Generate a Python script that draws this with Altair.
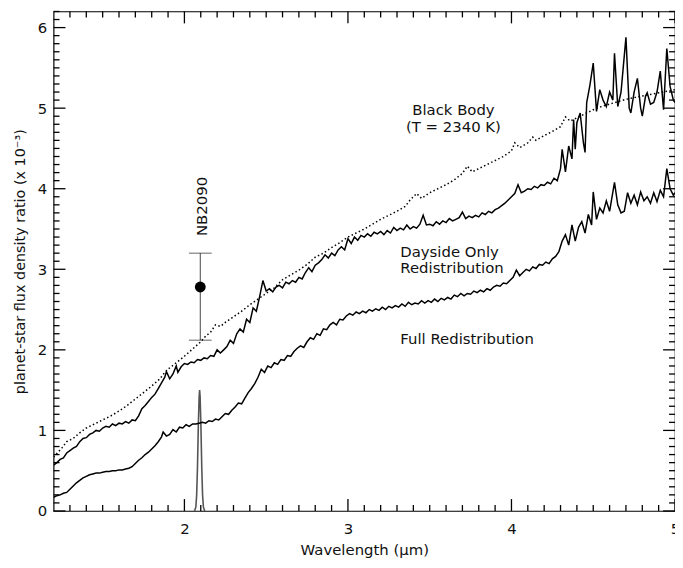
import altair as alt
import pandas as pd

# ---------------- data ----------------
wl_bb = [1.20, 1.25, 1.28, 1.32, 1.36, 1.40, 1.45, 1.50, 1.55, 1.60, 1.65, 1.70, 1.75, 1.80,
         1.85, 1.88, 1.90, 1.95, 2.00, 2.05, 2.10, 2.13, 2.16, 2.19, 2.22, 2.25, 2.30, 2.35,
         2.40, 2.45, 2.50, 2.55, 2.60, 2.65, 2.70, 2.75, 2.80, 2.85, 2.90, 2.95, 3.00, 3.05,
         3.10, 3.15, 3.20, 3.25, 3.30, 3.35, 3.38, 3.42, 3.45, 3.50, 3.55, 3.60, 3.65, 3.70,
         3.73, 3.76, 3.80, 3.85, 3.90, 3.95, 4.00, 4.02, 4.05, 4.10, 4.13, 4.15, 4.20, 4.25,
         4.30, 4.33, 4.36, 4.40, 4.45, 4.50, 4.55, 4.60, 4.65, 4.70, 4.75, 4.80, 4.85, 4.90,
         4.95, 5.00]
f_bb = [0.67, 0.78, 0.86, 0.90, 0.97, 1.03, 1.08, 1.13, 1.18, 1.24, 1.31, 1.39, 1.47, 1.55,
        1.64, 1.72, 1.76, 1.84, 1.92, 2.01, 2.10, 2.17, 2.22, 2.31, 2.29, 2.34, 2.41, 2.48,
        2.56, 2.63, 2.70, 2.77, 2.87, 2.93, 2.99, 3.06, 3.15, 3.20, 3.27, 3.33, 3.40, 3.45,
        3.50, 3.56, 3.62, 3.67, 3.72, 3.78, 3.86, 3.94, 3.88, 3.95, 4.00, 4.05, 4.11, 4.19,
        4.28, 4.21, 4.25, 4.30, 4.35, 4.40, 4.47, 4.57, 4.51, 4.57, 4.64, 4.60, 4.66, 4.71,
        4.77, 4.89, 4.84, 4.88, 4.93, 4.98, 5.02, 5.05, 5.08, 5.11, 5.13, 5.15, 5.17, 5.19,
        5.21, 5.23]

wl_day = [1.20, 1.22, 1.24, 1.26, 1.28, 1.30, 1.32, 1.34, 1.36, 1.38, 1.40, 1.42, 1.44, 1.46,
          1.48, 1.50, 1.52, 1.54, 1.56, 1.58, 1.60, 1.62, 1.64, 1.66, 1.68, 1.70, 1.72, 1.74,
          1.76, 1.78, 1.80, 1.82, 1.84, 1.86, 1.88, 1.89, 1.91, 1.93, 1.95, 1.96, 1.98, 2.00,
          2.02, 2.04, 2.06, 2.08, 2.10, 2.12, 2.14, 2.16, 2.18, 2.20, 2.22, 2.24, 2.26, 2.28,
          2.30, 2.32, 2.34, 2.36, 2.38, 2.40, 2.42, 2.44, 2.46, 2.48, 2.50, 2.52, 2.54, 2.56,
          2.58, 2.60, 2.62, 2.64, 2.66, 2.68, 2.70, 2.72, 2.74, 2.76, 2.78, 2.80, 2.82, 2.84,
          2.86, 2.88, 2.90, 2.92, 2.94, 2.96, 2.98, 3.00, 3.02, 3.04, 3.06, 3.08, 3.10, 3.12,
          3.14, 3.16, 3.18, 3.20, 3.22, 3.24, 3.26, 3.28, 3.30, 3.32, 3.34, 3.36, 3.38, 3.40,
          3.42, 3.44, 3.46, 3.48, 3.50, 3.52, 3.54, 3.56, 3.58, 3.60, 3.62, 3.64, 3.66, 3.68,
          3.70, 3.72, 3.74, 3.76, 3.78, 3.80, 3.82, 3.84, 3.86, 3.88, 3.90, 3.92, 3.94, 3.96,
          3.98, 4.00, 4.02, 4.04, 4.06, 4.08, 4.10, 4.12, 4.14, 4.16, 4.18, 4.20, 4.22, 4.24,
          4.26, 4.28, 4.30, 4.31, 4.33, 4.35, 4.37, 4.38, 4.39, 4.40, 4.42, 4.44, 4.45, 4.46,
          4.48, 4.50, 4.52, 4.54, 4.56, 4.58, 4.60, 4.62, 4.63, 4.65, 4.67, 4.70, 4.72, 4.73,
          4.75, 4.77, 4.79, 4.80, 4.82, 4.83, 4.85, 4.87, 4.89, 4.91, 4.93, 4.95, 4.97, 4.99,
          5.00]
f_day = [0.57, 0.60, 0.64, 0.66, 0.72, 0.75, 0.78, 0.80, 0.86, 0.90, 0.91, 0.95, 0.97, 1.00,
         0.99, 1.03, 1.05, 1.04, 1.08, 1.06, 1.09, 1.08, 1.11, 1.09, 1.13, 1.12, 1.18, 1.27,
         1.31, 1.36, 1.41, 1.45, 1.52, 1.59, 1.66, 1.73, 1.64, 1.70, 1.80, 1.72, 1.79, 1.83,
         1.82, 1.85, 1.84, 1.88, 1.87, 1.90, 1.89, 1.93, 1.92, 2.00, 1.96, 2.00, 2.04, 2.12,
         2.08, 2.20, 2.26, 2.22, 2.38, 2.34, 2.52, 2.48, 2.66, 2.86, 2.73, 2.76, 2.72, 2.78,
         2.80, 2.77, 2.84, 2.82, 2.86, 2.84, 2.90, 2.88, 2.96, 3.02, 2.97, 3.05, 3.08, 3.12,
         3.18, 3.14, 3.20, 3.17, 3.24, 3.28, 3.24, 3.38, 3.32, 3.40, 3.36, 3.42, 3.40, 3.44,
         3.41, 3.46, 3.44, 3.47, 3.43, 3.48, 3.45, 3.52, 3.48, 3.51, 3.49, 3.55, 3.50, 3.53,
         3.51, 3.56, 3.67, 3.55, 3.56, 3.54, 3.59, 3.56, 3.60, 3.58, 3.63, 3.60, 3.62, 3.64,
         3.71, 3.63, 3.66, 3.64, 3.67, 3.65, 3.70, 3.68, 3.72, 3.70, 3.74, 3.76, 3.79, 3.82,
         3.86, 3.90, 3.94, 4.05, 3.95, 3.97, 4.00, 3.99, 4.03, 4.01, 4.05, 4.04, 4.08, 4.06,
         4.13, 4.10, 4.25, 4.49, 4.21, 4.53, 4.37, 4.86, 4.49, 4.82, 4.94, 4.57, 4.45, 5.07,
         5.29, 5.56, 4.96, 5.23, 5.10, 5.02, 5.20, 5.10, 5.68, 5.02, 5.20, 5.88, 5.00, 4.94,
         5.20, 5.37, 5.00, 4.90, 5.15, 5.19, 5.05, 5.07, 5.20, 5.46, 4.98, 5.74, 5.27, 5.10,
         5.07]

wl_full = [1.20, 1.22, 1.24, 1.26, 1.28, 1.30, 1.32, 1.34, 1.36, 1.38, 1.40, 1.42, 1.44, 1.46,
           1.48, 1.50, 1.52, 1.54, 1.56, 1.58, 1.60, 1.62, 1.64, 1.66, 1.68, 1.70, 1.72, 1.74,
           1.76, 1.78, 1.80, 1.82, 1.84, 1.86, 1.87, 1.89, 1.91, 1.93, 1.95, 1.97, 1.99, 2.01,
           2.03, 2.05, 2.07, 2.09, 2.11, 2.13, 2.15, 2.17, 2.19, 2.21, 2.23, 2.25, 2.27, 2.29,
           2.31, 2.33, 2.35, 2.37, 2.39, 2.41, 2.43, 2.45, 2.47, 2.49, 2.51, 2.53, 2.55, 2.57,
           2.59, 2.61, 2.63, 2.65, 2.67, 2.69, 2.71, 2.73, 2.75, 2.77, 2.79, 2.81, 2.83, 2.85,
           2.87, 2.89, 2.91, 2.93, 2.95, 2.97, 2.99, 3.01, 3.03, 3.05, 3.07, 3.09, 3.11, 3.13,
           3.15, 3.17, 3.19, 3.21, 3.23, 3.25, 3.27, 3.29, 3.31, 3.33, 3.35, 3.37, 3.39, 3.41,
           3.43, 3.45, 3.47, 3.49, 3.51, 3.53, 3.55, 3.57, 3.59, 3.61, 3.63, 3.65, 3.67, 3.69,
           3.71, 3.73, 3.75, 3.77, 3.79, 3.81, 3.83, 3.85, 3.87, 3.89, 3.91, 3.93, 3.95, 3.97,
           3.99, 4.01, 4.03, 4.05, 4.07, 4.09, 4.11, 4.13, 4.15, 4.17, 4.19, 4.21, 4.23, 4.25,
           4.27, 4.29, 4.31, 4.33, 4.35, 4.37, 4.39, 4.41, 4.43, 4.45, 4.47, 4.49, 4.50, 4.52,
           4.54, 4.56, 4.58, 4.60, 4.63, 4.65, 4.67, 4.69, 4.71, 4.73, 4.75, 4.77, 4.79, 4.81,
           4.83, 4.85, 4.87, 4.89, 4.91, 4.93, 4.95, 4.97, 4.99, 5.00]
f_full = [0.17, 0.19, 0.20, 0.22, 0.23, 0.27, 0.31, 0.35, 0.38, 0.41, 0.43, 0.45, 0.46, 0.47,
          0.47, 0.48, 0.49, 0.49, 0.50, 0.50, 0.51, 0.51, 0.52, 0.53, 0.55, 0.59, 0.63, 0.66,
          0.70, 0.73, 0.77, 0.81, 0.86, 0.92, 0.98, 0.93, 0.95, 1.01, 0.98, 1.04, 1.03, 1.07,
          1.05, 1.08, 1.08, 1.09, 1.10, 1.09, 1.12, 1.11, 1.14, 1.13, 1.17, 1.21, 1.20, 1.25,
          1.29, 1.34, 1.33, 1.40, 1.47, 1.52, 1.58, 1.66, 1.76, 1.72, 1.80, 1.78, 1.84, 1.82,
          1.88, 1.87, 1.93, 1.92, 1.98, 2.02, 2.05, 2.03, 2.10, 2.15, 2.13, 2.20, 2.18, 2.26,
          2.25, 2.31, 2.34, 2.31, 2.38, 2.37, 2.42, 2.45, 2.43, 2.47, 2.45, 2.48, 2.46, 2.50,
          2.48, 2.51, 2.49, 2.53, 2.50, 2.54, 2.52, 2.55, 2.53, 2.57, 2.54, 2.59, 2.56, 2.58,
          2.57, 2.61, 2.58, 2.61, 2.59, 2.63, 2.60, 2.64, 2.62, 2.65, 2.63, 2.68, 2.66, 2.70,
          2.67, 2.70, 2.69, 2.73, 2.71, 2.74, 2.72, 2.76, 2.74, 2.78, 2.80, 2.79, 2.83, 2.82,
          2.86, 2.90, 2.99, 2.92, 2.96, 3.00, 2.98, 3.03, 3.01, 3.06, 3.05, 3.09, 3.07, 3.13,
          3.16, 3.22, 3.35, 3.43, 3.30, 3.55, 3.35, 3.52, 3.59, 3.45, 3.68, 3.55, 3.96, 3.62,
          3.76, 3.70, 3.85, 3.72, 4.08, 3.80, 3.70, 3.72, 3.95, 3.82, 3.92, 3.80, 3.96, 3.85,
          3.90, 3.82, 3.95, 3.84, 3.98, 3.90, 4.25, 4.00, 3.92, 3.95]

wl_filter = [2.062, 2.070, 2.075, 2.080, 2.085, 2.090, 2.093, 2.096, 2.101, 2.106, 2.111, 2.116, 2.124]
f_filter = [0.0, 0.05, 0.20, 0.55, 1.05, 1.42, 1.50, 1.42, 1.05, 0.55, 0.20, 0.05, 0.0]

nb_wl = [2.097]
nb_val = [2.78]
nb_lo = [2.12]
nb_hi = [3.20]

x_major = [2, 3, 4, 5]
y_major = [0, 1, 2, 3, 4, 5, 6]
x_minor = [round(1.3 + 0.1 * i, 1) for i in range(37) if round(1.3 + 0.1 * i, 1) not in (2.0, 3.0, 4.0)]
y_minor = [round(0.1 * i, 1) for i in range(1, 63) if i % 10 != 0]

ann_center = ["Black Body", "(T = 2340 K)"]
ann_center_x = [3.645, 3.645]
ann_center_y = [4.98, 4.77]
ann_left = ["Dayside Only", "Redistribution", "Full Redistribution"]
ann_left_x = [3.32, 3.32, 3.32]
ann_left_y = [3.22, 3.01, 2.14]

# ---------------- chart ----------------
W, H = 627, 504
FONT = "DejaVu Sans"
INK = "#111"

xs = alt.Scale(domain=[1.2, 5.0], nice=False, zero=False)
ys = alt.Scale(domain=[0, 6.2], nice=False, zero=False)
xaxis = alt.Axis(values=x_major, title="Wavelength (μm)", ticks=False, domain=False, grid=False,
                 labelPadding=11, labelFlush=False, labelFontSize=15, titleFontSize=15,
                 titlePadding=6, labelFont=FONT, titleFont=FONT, titleFontWeight="normal",
                 labelColor=INK, titleColor=INK)
yaxis = alt.Axis(values=y_major, title="planet-star flux density ratio (x 10⁻³)", ticks=False,
                 domain=False, grid=False, labelPadding=7, labelFlush=False, labelFontSize=15,
                 titleFontSize=14.5, titlePadding=10, labelFont=FONT, titleFont=FONT,
                 titleFontWeight="normal", labelColor=INK, titleColor=INK)


def X(f):
    return alt.X(f, type="quantitative", scale=xs, axis=xaxis)


def Y(f):
    return alt.Y(f, type="quantitative", scale=ys, axis=yaxis)


df_bb = pd.DataFrame({"wl": wl_bb, "f": f_bb})
df_day = pd.DataFrame({"wl": wl_day, "f": f_day})
df_full = pd.DataFrame({"wl": wl_full, "f": f_full})
df_filter = pd.DataFrame({"wl": wl_filter, "f": f_filter})
df_nb = pd.DataFrame({"wl": nb_wl, "f": nb_val, "lo": nb_lo, "hi": nb_hi})

bb = alt.Chart(df_bb).mark_line(color="black", strokeWidth=1.5, strokeDash=[1.5, 2.5], clip=True).encode(
    x=X("wl"), y=Y("f"))
day = alt.Chart(df_day).mark_line(color="black", strokeWidth=1.5, clip=True).encode(x=X("wl"), y=Y("f"))
full = alt.Chart(df_full).mark_line(color="black", strokeWidth=1.5, clip=True).encode(x=X("wl"), y=Y("f"))
filt = alt.Chart(df_filter).mark_line(color="#555", strokeWidth=1.6).encode(x=X("wl"), y=Y("f"))

err = alt.Chart(df_nb).mark_rule(color="#444", strokeWidth=1).encode(x=X("wl"), y=Y("lo"), y2="hi")
cap_lo = alt.Chart(df_nb).mark_tick(color="#222", orient="horizontal", size=23, thickness=1).encode(
    x=X("wl"), y=Y("lo"))
cap_hi = alt.Chart(df_nb).mark_tick(color="#222", orient="horizontal", size=23, thickness=1).encode(
    x=X("wl"), y=Y("hi"))
pt = alt.Chart(df_nb).mark_circle(color="black", opacity=1, size=120).encode(x=X("wl"), y=Y("f"))

df_nblab = pd.DataFrame({"wl": [2.106], "f": [3.78], "t": ["NB2090"]})
nblab = alt.Chart(df_nblab).mark_text(angle=270, font=FONT, fontSize=15, color=INK,
                                      align="center", baseline="middle").encode(
    x=X("wl"), y=Y("f"), text="t:N")

df_ac = pd.DataFrame({"wl": ann_center_x, "f": ann_center_y, "t": ann_center})
df_al = pd.DataFrame({"wl": ann_left_x, "f": ann_left_y, "t": ann_left})
txt_c = alt.Chart(df_ac).mark_text(font=FONT, fontSize=15, color=INK, align="center",
                                   baseline="middle").encode(x=X("wl"), y=Y("f"), text="t:N")
txt_l = alt.Chart(df_al).mark_text(font=FONT, fontSize=15, color=INK, align="left",
                                   baseline="middle").encode(x=X("wl"), y=Y("f"), text="t:N")

# inward tick marks on all four sides (IDL style)
MAJ, MIN = 12, 6
df_yM = pd.DataFrame({"v": y_major})
df_ym = pd.DataFrame({"v": y_minor})
df_xM = pd.DataFrame({"v": x_major})
df_xm = pd.DataFrame({"v": x_minor})
tk = dict(color="black", strokeWidth=1.3)
ticks = [
    alt.Chart(df_yM).mark_rule(**tk).encode(y=Y("v"), x=alt.value(0), x2=alt.value(MAJ)),
    alt.Chart(df_ym).mark_rule(**tk).encode(y=Y("v"), x=alt.value(0), x2=alt.value(MIN)),
    alt.Chart(df_yM).mark_rule(**tk).encode(y=Y("v"), x=alt.value(W), x2=alt.value(W - MAJ)),
    alt.Chart(df_ym).mark_rule(**tk).encode(y=Y("v"), x=alt.value(W), x2=alt.value(W - MIN)),
    alt.Chart(df_xM).mark_rule(**tk).encode(x=X("v"), y=alt.value(H), y2=alt.value(H - MAJ)),
    alt.Chart(df_xm).mark_rule(**tk).encode(x=X("v"), y=alt.value(H), y2=alt.value(H - MIN)),
    alt.Chart(df_xM).mark_rule(**tk).encode(x=X("v"), y=alt.value(0), y2=alt.value(MAJ)),
    alt.Chart(df_xm).mark_rule(**tk).encode(x=X("v"), y=alt.value(0), y2=alt.value(MIN)),
]

chart = alt.layer(
    filt, full, day, bb, err, cap_lo, cap_hi, pt, nblab, txt_c, txt_l, *ticks
).properties(
    width=W, height=H,
    autosize=alt.AutoSizeParams(type="none"),
    padding={"left": 46, "top": 1, "right": 0, "bottom": 52},
    background="white",
).configure_view(
    stroke="black", strokeWidth=1.2
)

chart.save("out.html", embed_options={"renderer": "svg", "actions": False})
